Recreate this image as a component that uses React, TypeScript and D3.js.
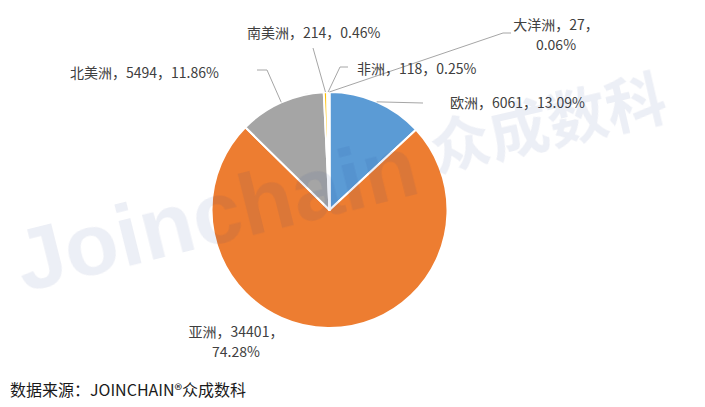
import React from 'react';
import * as d3 from 'd3';

const categories = ['欧洲', '亚洲', '北美洲', '南美洲', '非洲', '大洋洲'];
const values = [6061, 34401, 5494, 214, 118, 27];
const percents = ['13.09%', '74.28%', '11.86%', '0.46%', '0.25%', '0.06%'];
const palette = ['#5B9BD5', '#ED7D31', '#A5A5A5', '#FFC000', '#4472C4', '#70AD47'];
const sourceText = '数据来源：JOINCHAIN®众成数科';

const W = 705;
const H = 407;
const cx = 329.5;
const cy = 210;
const R = 118;

type LabelLayout = {
  x: number;
  y: number;
  anchor: 'start' | 'middle';
  bend?: [number, number][];
};

const labelLayout: LabelLayout[] = [
  { x: 450, y: 102, anchor: 'start', bend: [[423, 103]] },
  { x: 236, y: 331, anchor: 'middle' },
  { x: 70, y: 72, anchor: 'start', bend: [[267, 70], [257, 70]] },
  { x: 247, y: 32, anchor: 'start', bend: [[313, 48]] },
  { x: 357, y: 68, anchor: 'start', bend: [[340, 67], [348, 67]] },
  { x: 556, y: 24, anchor: 'middle', bend: [[503, 33], [511, 33]] },
];

const wrap: Record<number, boolean> = { 1: true, 5: true };
const lineGap = 20;

export default function App() {
  const pie = d3
    .pie<number>()
    .sort(null)
    .startAngle(0)
    .endAngle(2 * Math.PI)
    .value((d) => d);
  const arcs = pie(values);
  const arcGen = d3.arc<d3.PieArcDatum<number>>().innerRadius(0).outerRadius(R);

  const font = '"Noto Sans CJK SC", "Microsoft YaHei", sans-serif';

  return (
    <svg
      width={W}
      height={H}
      viewBox={`0 0 ${W} ${H}`}
      style={{ position: 'absolute', left: 0, top: 0, background: '#fff' }}
    >
      <rect x={0} y={0} width={W} height={H} fill="#fff" />
      <g transform={`translate(${cx},${cy})`}>
        {arcs.map((a, i) => (
          <path
            key={i}
            d={arcGen(a) || ''}
            fill={palette[i]}
            stroke="#fff"
            strokeWidth={2}
            strokeLinejoin="round"
          />
        ))}
      </g>
      {arcs.map((a, i) => {
        const lay = labelLayout[i];
        if (!lay.bend) return null;
        const mid = (a.startAngle + a.endAngle) / 2;
        const ex = cx + R * Math.sin(mid);
        const ey = cy - R * Math.cos(mid);
        const pts: [number, number][] = [[ex, ey], ...lay.bend];
        return (
          <polyline
            key={'l' + i}
            points={pts.map((p) => p.join(',')).join(' ')}
            fill="none"
            stroke="#A6A6A6"
            strokeWidth={1}
          />
        );
      })}
      {categories.map((c, i) => {
        const lay = labelLayout[i];
        const full = `${c}，${values[i]}，`;
        const lines = wrap[i] ? [full, percents[i]] : [full + percents[i]];
        return (
          <g key={'t' + i}>
            {lines.map((ln, k) => (
              <text
                key={k}
                x={lay.x}
                y={lay.y + k * lineGap}
                textAnchor={lay.anchor}
                fontFamily={font}
                fontSize={14}
                fill="#404040"
                dominantBaseline="central"
              >
                {ln}
              </text>
            ))}
          </g>
        );
      })}
      <g opacity={0.085} fill="#1f3c8c" style={{ pointerEvents: 'none' }}>
        <text
          transform="translate(24,292) rotate(-14)"
          fontFamily='"Liberation Sans", Arial, sans-serif'
          fontWeight={700}
          fontSize={88}
        >
          Joinchain
        </text>
        <text
          transform="translate(436,172) rotate(-13)"
          fontFamily={font}
          fontWeight={700}
          fontSize={60}
        >
          众成数科
        </text>
      </g>
      <text
        x={10}
        y={389}
        fontFamily={font}
        fontSize={16}
        fill="#1a1a1a"
        dominantBaseline="central"
      >
        {sourceText}
      </text>
    </svg>
  );
}
